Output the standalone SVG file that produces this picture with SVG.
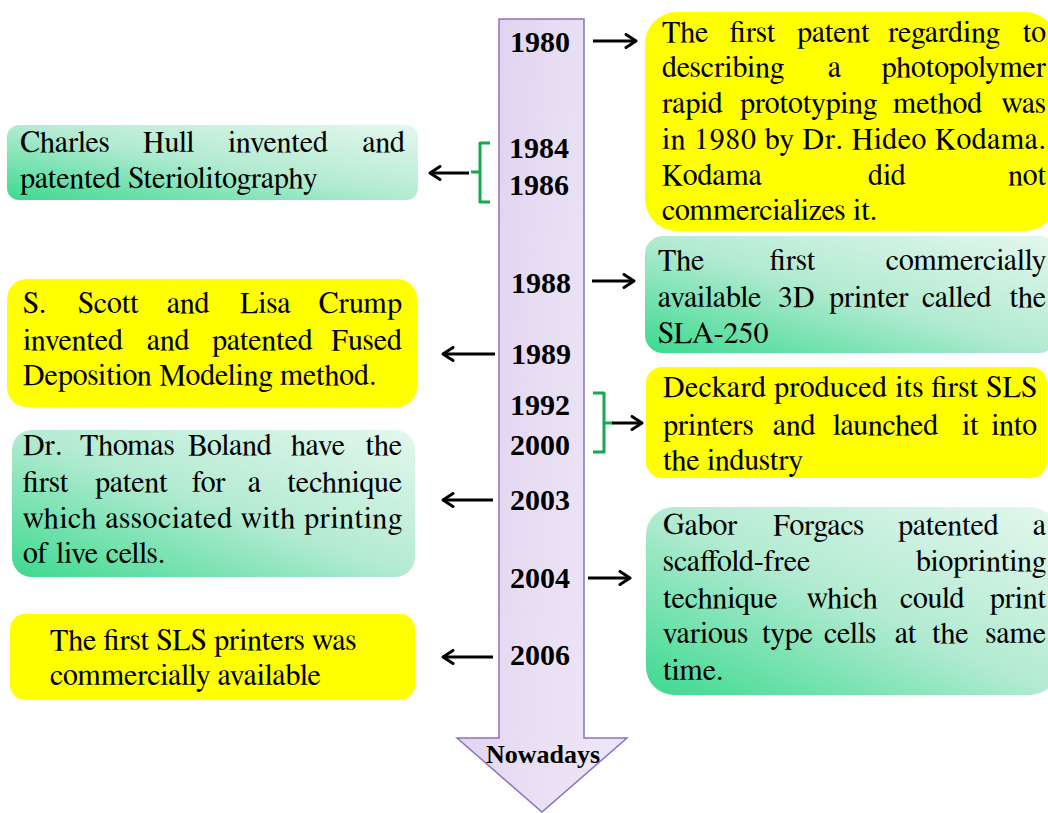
<svg xmlns="http://www.w3.org/2000/svg" width="1048" height="813" viewBox="0 0 1048 813">
<defs>
<linearGradient id="green" x1="0" y1="1" x2="1" y2="0">
<stop offset="0" stop-color="#3cd98f"/>
<stop offset="0.5" stop-color="#b3ebd2"/>
<stop offset="1" stop-color="#e4f7ee"/>
</linearGradient>
<linearGradient id="lav" x1="0" y1="0" x2="1" y2="0.3">
<stop offset="0" stop-color="#dccdee"/>
<stop offset="0.6" stop-color="#e8def3"/>
<stop offset="1" stop-color="#ece5f5"/>
</linearGradient>
<marker id="ah" markerUnits="userSpaceOnUse" markerWidth="16" markerHeight="16" viewBox="0 0 16 16" refX="13" refY="8" orient="auto">
<path d="M3,1.5 L13,8 L3,14.5" fill="none" stroke="#000" stroke-width="3" stroke-linecap="round" stroke-linejoin="round"/>
</marker>
</defs>
<style>
.t{font-family:FreeSerif,'Liberation Serif',serif;font-size:30px;font-weight:400;fill:#000}
.y{font-family:'Liberation Serif',FreeSerif,serif;font-size:30px;font-weight:bold;fill:#000;text-anchor:middle}
.e{text-anchor:end}
.yel{fill:#ffff00}
.grn{fill:url(#green)}
.con{stroke:#000;stroke-width:3;fill:none;marker-end:url(#ah)}
.br{stroke:#16a84e;stroke-width:3;fill:none;stroke-linejoin:round}
</style>
<rect width="1048" height="813" fill="#fff"/>

<g id="timeline">
<polygon points="499,19 584,19 584,738 627,738 542,812 457,738 499,738" fill="url(#lav)" stroke="#8f70bf" stroke-width="1.5"/>
<text class="y" x="540" y="52">1980</text>
<text class="y" x="539" y="158">1984</text>
<text class="y" x="539" y="195">1986</text>
<text class="y" x="541" y="293">1988</text>
<text class="y" x="541" y="364">1989</text>
<text class="y" x="540" y="415">1992</text>
<text class="y" x="540" y="455">2000</text>
<text class="y" x="540" y="510">2003</text>
<text class="y" x="540" y="588">2004</text>
<text class="y" x="540" y="665">2006</text>
<text class="y" x="543" y="763" style="font-size:26px">Nowadays</text>
</g>

<g id="connectors">
<path class="con" d="M593,41 H636"/>
<path class="br" d="M490,143 H480 V202 H490 M480,172 H471"/>
<path class="con" d="M469,173 H430"/>
<path class="con" d="M592,281 H634"/>
<path class="con" d="M495,354 H443"/>
<path class="br" d="M593,393 H604 V452 H593 M604,423 H613"/>
<path class="con" d="M612,423 H642"/>
<path class="con" d="M493,500 H443"/>
<path class="con" d="M588,578 H630"/>
<path class="con" d="M493,657 H443"/>
</g>

<g id="box1980">
<rect class="yel" x="645" y="12" width="412" height="219" rx="32"/>
<text class="t" y="42"><tspan x="662">The</tspan><tspan x="730">first</tspan><tspan x="797">patent</tspan><tspan x="888">regarding</tspan><tspan class="e" x="1046">to</tspan></text>
<text class="t" y="77"><tspan x="662">describing</tspan><tspan x="828">a</tspan><tspan class="e" x="1046">photopolymer</tspan></text>
<text class="t" y="113"><tspan x="662">rapid</tspan><tspan x="740">prototyping</tspan><tspan x="893">method</tspan><tspan class="e" x="1046">was</tspan></text>
<text class="t" x="662" y="149" textLength="384" lengthAdjust="spacing">in 1980 by Dr. Hideo Kodama.</text>
<text class="t" y="185"><tspan x="662">Kodama</tspan><tspan x="868">did</tspan><tspan class="e" x="1046">not</tspan></text>
<text class="t" x="662" y="220">commercializes it.</text>
</g>

<g id="box1988">
<rect class="grn" x="645" y="236" width="412" height="117" rx="18"/>
<text class="t" y="270"><tspan x="658">The</tspan><tspan x="770">first</tspan><tspan class="e" x="1046">commercially</tspan></text>
<text class="t" y="307"><tspan x="658">available</tspan><tspan x="778">3D</tspan><tspan x="829">printer</tspan><tspan x="922">called</tspan><tspan class="e" x="1046">the</tspan></text>
<text class="t" x="658" y="343">SLA-250</text>
</g>

<g id="box1992">
<rect class="yel" x="646" y="367" width="401" height="111" rx="16"/>
<text class="t" x="663" y="397" textLength="374" lengthAdjust="spacing">Deckard produced its first SLS</text>
<text class="t" y="435"><tspan x="663">printers</tspan><tspan x="773">and</tspan><tspan x="833">launched</tspan><tspan x="962">it</tspan><tspan class="e" x="1037">into</tspan></text>
<text class="t" x="663" y="470">the industry</text>
</g>

<g id="box2004">
<rect class="grn" x="646" y="507" width="412" height="188" rx="28"/>
<text class="t" y="535"><tspan x="663">Gabor</tspan><tspan x="773">Forgacs</tspan><tspan x="898">patented</tspan><tspan class="e" x="1046">a</tspan></text>
<text class="t" y="571"><tspan x="663">scaffold-free</tspan><tspan class="e" x="1046">bioprinting</tspan></text>
<text class="t" y="608"><tspan x="663">technique</tspan><tspan x="807">which</tspan><tspan x="900">could</tspan><tspan class="e" x="1046">print</tspan></text>
<text class="t" y="643"><tspan x="663">various</tspan><tspan x="762">type</tspan><tspan x="824">cells</tspan><tspan x="895">at</tspan><tspan x="932">the</tspan><tspan class="e" x="1046">same</tspan></text>
<text class="t" x="663" y="680">time.</text>
</g>

<g id="box1984">
<rect class="grn" x="7" y="125" width="411" height="75" rx="12"/>
<text class="t" y="152"><tspan x="20">Charles</tspan><tspan x="143">Hull</tspan><tspan x="228">invented</tspan><tspan class="e" x="405">and</tspan></text>
<text class="t" x="20" y="188">patented Steriolitography</text>
</g>

<g id="box1989">
<rect class="yel" x="7" y="279" width="410" height="128" rx="20"/>
<text class="t" y="313"><tspan x="23">S.</tspan><tspan x="78">Scott</tspan><tspan x="167">and</tspan><tspan x="240">Lisa</tspan><tspan class="e" x="402">Crump</tspan></text>
<text class="t" y="350"><tspan x="23">invented</tspan><tspan x="147">and</tspan><tspan x="212">patented</tspan><tspan class="e" x="402">Fused</tspan></text>
<text class="t" x="23" y="385">Deposition Modeling method.</text>
</g>

<g id="box2003">
<rect class="grn" x="12" y="430" width="403" height="147" rx="20"/>
<text class="t" y="455"><tspan x="23">Dr.</tspan><tspan x="80">Thomas</tspan><tspan x="188">Boland</tspan><tspan x="291">have</tspan><tspan class="e" x="402">the</tspan></text>
<text class="t" y="492"><tspan x="23">first</tspan><tspan x="95">patent</tspan><tspan x="192">for</tspan><tspan x="248">a</tspan><tspan class="e" x="402">technique</tspan></text>
<text class="t" x="23" y="528" textLength="379" lengthAdjust="spacing">which associated with printing</text>
<text class="t" x="23" y="563">of live cells.</text>
</g>

<g id="box2006">
<rect class="yel" x="10" y="614" width="405" height="86" rx="15"/>
<text class="t" x="50" y="650">The first SLS printers was</text>
<text class="t" x="50" y="685">commercially available</text>
</g>
</svg>
